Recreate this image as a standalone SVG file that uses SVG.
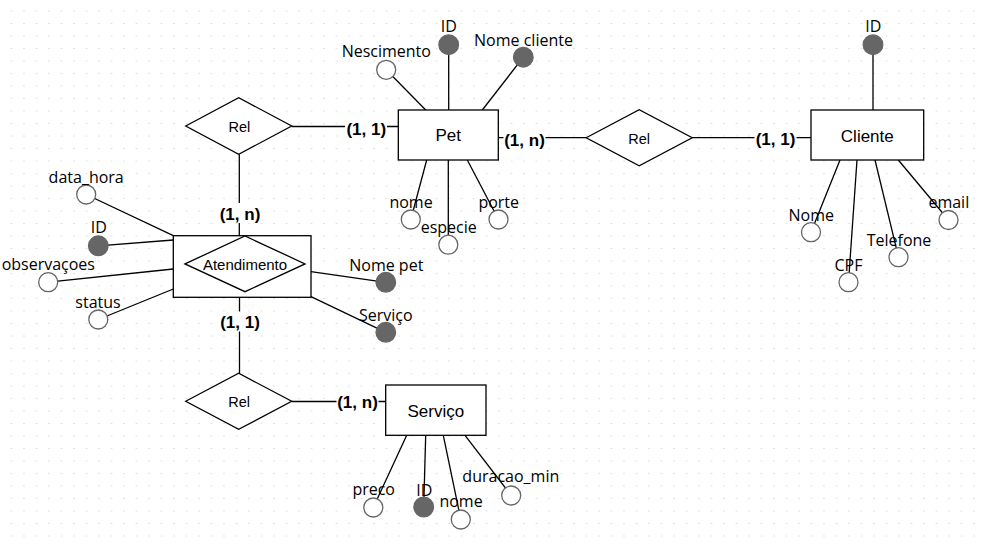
<svg xmlns="http://www.w3.org/2000/svg" width="985" height="543" viewBox="0 0 985 543">
<defs>
<pattern id="grid" x="0" y="0" width="12.5" height="12.5" patternUnits="userSpaceOnUse">
<rect x="11" y="10.5" width="1" height="1" fill="#c4c4c4"/>
</pattern>
<style>
.ln{stroke:#000;stroke-width:1.3;fill:none}
.ent{fill:#fff;stroke:#000;stroke-width:1.3}
.rel{fill:#fff;stroke:#000;stroke-width:1.3}
.att{fill:#fff;stroke:#666;stroke-width:1.3}
.key{fill:#666;stroke:#666;stroke-width:1.3}
.et{font-family:"Liberation Sans",Arial,sans-serif;font-size:17px;fill:#000;text-anchor:middle}
.rt{font-family:"Liberation Sans",Arial,sans-serif;font-size:14.5px;fill:#000;text-anchor:middle}
.at{font-family:"Open Sans","Noto Sans",sans-serif;font-size:16px;fill:#000;text-anchor:middle}
.ct{font-family:"Liberation Sans",Arial,sans-serif;font-size:17px;font-weight:bold;fill:#000;text-anchor:middle}
.bg{fill:#fff}
</style>
</defs>
<rect width="985" height="543" fill="#fff"/>
<rect width="985" height="543" fill="url(#grid)"/>

<g id="connectors">
<line class="ln" x1="425.7" y1="110" x2="386.2" y2="69.8"/>
<line class="ln" x1="448.7" y1="110" x2="448.7" y2="44.7"/>
<line class="ln" x1="482.3" y1="110" x2="523.3" y2="57.2"/>
<line class="ln" x1="426.7" y1="160" x2="410.8" y2="219.5"/>
<line class="ln" x1="448.3" y1="160" x2="448.3" y2="244.7"/>
<line class="ln" x1="467.3" y1="160" x2="498.5" y2="219.5"/>
<line class="ln" x1="873" y1="110" x2="873" y2="44.7"/>
<line class="ln" x1="840" y1="160" x2="811" y2="232.2"/>
<line class="ln" x1="857" y1="160" x2="848.5" y2="282.2"/>
<line class="ln" x1="875" y1="160" x2="898.5" y2="257.2"/>
<line class="ln" x1="898.3" y1="160" x2="948.5" y2="220"/>
<line class="ln" x1="173.3" y1="235.7" x2="86.2" y2="194.5"/>
<line class="ln" x1="173.3" y1="240" x2="98.3" y2="245.8"/>
<line class="ln" x1="173.3" y1="269" x2="48.2" y2="282.2"/>
<line class="ln" x1="173.3" y1="289" x2="98.3" y2="319.5"/>
<line class="ln" x1="311" y1="271.7" x2="385.8" y2="282.3"/>
<line class="ln" x1="311" y1="296.7" x2="385.8" y2="332.3"/>
<line class="ln" x1="406.7" y1="435.3" x2="373.3" y2="507.5"/>
<line class="ln" x1="425.7" y1="435.3" x2="423.7" y2="507"/>
<line class="ln" x1="443.3" y1="435.3" x2="460.8" y2="519.5"/>
<line class="ln" x1="465" y1="435.3" x2="511.2" y2="495.5"/>

<line class="ln" x1="291.7" y1="126.5" x2="398" y2="126.5"/>
<line class="ln" x1="239.3" y1="154.3" x2="239.3" y2="235.7"/>
<line class="ln" x1="498.3" y1="137.7" x2="586.2" y2="137.7"/>
<line class="ln" x1="692.2" y1="137.7" x2="811" y2="137.7"/>
<line class="ln" x1="239.5" y1="297.3" x2="239.5" y2="373.3"/>
<line class="ln" x1="291.7" y1="401.5" x2="385.7" y2="401.5"/>

<rect class="bg" x="345" y="119" width="42" height="19"/>
<text class="ct" x="366.3" y="134.5">(1, 1)</text>
<rect class="bg" x="219" y="203" width="42" height="20"/>
<text class="ct" x="240" y="219.5">(1, n)</text>
<rect class="bg" x="503.5" y="130" width="42" height="19"/>
<text class="ct" x="524.5" y="145.5">(1, n)</text>
<rect class="bg" x="754.5" y="129.5" width="42" height="19"/>
<text class="ct" x="775.5" y="145">(1, 1)</text>
<rect class="bg" x="219" y="311.5" width="42" height="20"/>
<text class="ct" x="240" y="328">(1, 1)</text>
<rect class="bg" x="336.5" y="392.5" width="42" height="19"/>
<text class="ct" x="357.5" y="408">(1, n)</text>
</g>

<g id="pet">
<rect class="ent" x="398.3" y="110" width="100" height="50"/>
<text class="et" x="448.3" y="141">Pet</text>
</g>
<g id="cliente">
<rect class="ent" x="811" y="110" width="112.7" height="50"/>
<text class="et" x="867.3" y="142">Cliente</text>
</g>
<g id="servico">
<rect class="ent" x="385.7" y="385" width="100.3" height="50.3"/>
<text class="et" x="435.8" y="417">Serviço</text>
</g>
<g id="atendimento">
<rect class="ent" x="173.3" y="235.7" width="137.7" height="61.6"/>
<polygon class="rel" points="185,263.9 245,236 305,263.9 245,291.7"/>
<text class="rt" x="245" y="270" style="font-size:15px">Atendimento</text>
</g>
<g id="rel-pet-atendimento">
<polygon class="rel" points="185.7,126 238.7,97.7 291.7,126 238.7,154.3"/>
<text class="rt" x="239.3" y="132">Rel</text>
</g>
<g id="rel-pet-cliente">
<polygon class="rel" points="586.2,137.7 639.2,109.7 692.2,137.7 639.2,165.7"/>
<text class="rt" x="639.2" y="144">Rel</text>
</g>
<g id="rel-atendimento-servico">
<polygon class="rel" points="185.7,401.3 238.7,373.3 291.7,401.3 238.7,429.3"/>
<text class="rt" x="239.2" y="407.3">Rel</text>
</g>

<g id="pet-id"><circle class="key" cx="448.7" cy="44.7" r="9.8"/><text class="at" x="448.8" y="32.3">ID</text></g>
<g id="pet-nescimento"><circle class="att" cx="386.2" cy="69.8" r="9.5"/><text class="at" x="386.3" y="57.3">Nescimento</text></g>
<g id="pet-nome-cliente"><circle class="key" cx="523.3" cy="57.2" r="9.8"/><text class="at" x="523.5" y="45.7">Nome cliente</text></g>
<g id="pet-nome"><circle class="att" cx="410.8" cy="219.5" r="9.5"/><text class="at" x="411" y="208.3">nome</text></g>
<g id="pet-especie"><circle class="att" cx="448.3" cy="244.7" r="9.5"/><text class="at" x="448.7" y="233">especie</text></g>
<g id="pet-porte"><circle class="att" cx="498.5" cy="219.5" r="9.5"/><text class="at" x="498.7" y="208.3">porte</text></g>

<g id="cliente-id"><circle class="key" cx="873" cy="44.7" r="9.8"/><text class="at" x="873.3" y="32.3">ID</text></g>
<g id="cliente-nome"><circle class="att" cx="811" cy="232.2" r="9.5"/><text class="at" x="811.3" y="220.7">Nome</text></g>
<g id="cliente-cpf"><circle class="att" cx="848.5" cy="282.2" r="9.5"/><text class="at" x="848.5" y="270.7">CPF</text></g>
<g id="cliente-telefone"><circle class="att" cx="898.5" cy="257.2" r="9.5"/><text class="at" x="899" y="245.5">Telefone</text></g>
<g id="cliente-email"><circle class="att" cx="948.5" cy="220" r="9.5"/><text class="at" x="948.8" y="208.3">email</text></g>

<g id="atendimento-data-hora"><circle class="att" cx="86.2" cy="194.5" r="9.5"/><text class="at" x="86.2" y="182.7">data_hora</text></g>
<g id="atendimento-id"><circle class="key" cx="98.3" cy="245.8" r="9.8"/><text class="at" x="98.7" y="232.7">ID</text></g>
<g id="atendimento-observacoes"><circle class="att" cx="48.2" cy="282.2" r="9.5"/><text class="at" x="48.3" y="269.5">observaçoes</text></g>
<g id="atendimento-status"><circle class="att" cx="98.3" cy="319.5" r="9.5"/><text class="at" x="98" y="307.7">status</text></g>
<g id="atendimento-nome-pet"><circle class="key" cx="385.8" cy="282.3" r="9.8"/><text class="at" x="386.3" y="271">Nome pet</text></g>
<g id="atendimento-servico"><circle class="key" cx="385.8" cy="332.3" r="9.8"/><text class="at" x="385.8" y="321">Serviço</text></g>

<g id="servico-preco"><circle class="att" cx="373.3" cy="507.5" r="9.5"/><text class="at" x="373.7" y="495">preco</text></g>
<g id="servico-id"><circle class="key" cx="423.7" cy="507" r="9.8"/><text class="at" x="424.2" y="496">ID</text></g>
<g id="servico-nome"><circle class="att" cx="460.8" cy="519.5" r="9.5"/><text class="at" x="461" y="507.3">nome</text></g>
<g id="servico-duracao-min"><circle class="att" cx="511.2" cy="495.5" r="9.5"/><text class="at" x="510.8" y="481.7">duracao_min</text></g>
</svg>
